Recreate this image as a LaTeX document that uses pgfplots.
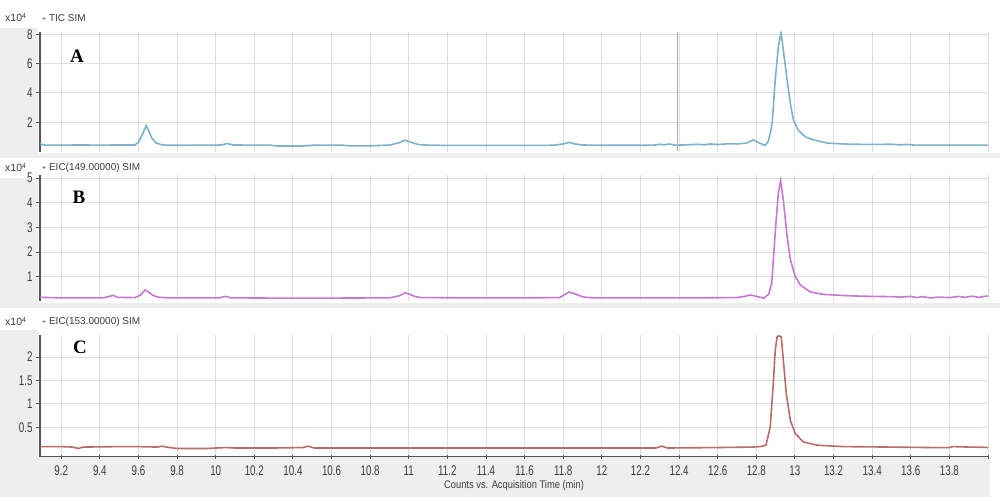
\documentclass[border=0pt]{standalone}
\usepackage{pgfplots}
\pgfplotsset{compat=1.18}
\usepackage{fontspec}
\setmainfont{Liberation Sans}
\newfontfamily\tickfont[FakeStretch=0.7]{Liberation Sans}
\newfontfamily\axlabfont[FakeStretch=0.85]{Liberation Sans}
\newfontfamily\letterfont{Liberation Serif}
\definecolor{bggray}{RGB}{238,238,238}
\definecolor{gridgray}{RGB}{222,222,222}
\definecolor{axgray}{RGB}{85,85,85}
\definecolor{txtgray}{RGB}{60,60,60}
\definecolor{cA}{RGB}{125,178,205}
\definecolor{cB}{RGB}{200,120,210}
\definecolor{cC}{RGB}{188,108,104}
\pgfplotsset{
  chrom/.style={
    scale only axis, width=948pt, xmin=9.09, xmax=14.0,
    enlargelimits=false,
    xtick={9.2,9.4,9.6,9.8,10.0,10.2,10.4,10.6,10.8,11.0,11.2,11.4,11.6,11.8,12.0,12.2,12.4,12.6,12.8,13.0,13.2,13.4,13.6,13.8,14.0},
    grid=major, major grid style={draw=gridgray, line width=0.9pt},
    axis y line*=left, axis x line*=bottom,
    y axis line style={-, draw=axgray, line width=1.2pt},
    ytick style={draw=axgray, line width=1pt},
    ytick align=outside, major tick length=4pt,
    tick label style={font=\tickfont\fontsize{14}{14}\selectfont, text=txtgray},
    axis background/.style={fill=white},
  },
  noxaxis/.style={x axis line style={draw=none}, xtick style={draw=none}, xticklabels={}},
}
\begin{document}
\begin{tikzpicture}[x=1pt,y=1pt]
\useasboundingbox (0,0) rectangle (1000,502);
\fill[white] (0,0) rectangle (1000,502);
% gray frame pieces
\fill[bggray] (0,502-153) rectangle (38,502-28);
\fill[bggray] (0,502-158) rectangle (1000,502-153);
\fill[bggray] (0,502-303) rectangle (38,502-178);
\fill[bggray] (0,502-308) rectangle (1000,502-303);
\fill[bggray] (0,502-497) rectangle (38,502-330);
\fill[bggray] (0,502-497) rectangle (990,502-457);

% Panel A
\begin{axis}[chrom, noxaxis, at={(40pt,350.4pt)}, anchor=south west,
  height=119.9pt, ymin=0, ymax=8.17,
  ytick={2,4,6,8}, yticklabels={2,4,6,8}]
\addplot[gray!65, line width=1pt] coordinates {(12.39,0.05) (12.39,8.17)};
\addplot[cA, line width=1.6pt] coordinates {
(9.09,0.58)(9.10,0.47)(9.12,0.44)(9.2,0.44)(9.3,0.45)(9.4,0.44)(9.5,0.45)(9.58,0.45)(9.60,0.62)(9.62,1.15)(9.64,1.78)(9.655,1.35)(9.67,0.9)(9.69,0.6)(9.72,0.46)(9.75,0.43)(9.8,0.43)(9.9,0.44)(10.0,0.44)(10.03,0.45)(10.06,0.55)(10.09,0.45)(10.2,0.44)(10.28,0.44)(10.32,0.38)(10.45,0.38)(10.5,0.43)(10.6,0.44)(10.66,0.43)(10.7,0.39)(10.8,0.39)(10.85,0.42)(10.9,0.44)(10.95,0.6)(10.98,0.78)(11.01,0.64)(11.05,0.48)(11.1,0.44)(11.2,0.42)(11.4,0.42)(11.6,0.42)(11.75,0.43)(11.8,0.52)(11.83,0.63)(11.86,0.52)(11.9,0.45)(12.0,0.43)(12.2,0.43)(12.27,0.44)(12.3,0.5)(12.32,0.46)(12.35,0.52)(12.38,0.44)(12.42,0.45)(12.5,0.5)(12.53,0.46)(12.56,0.52)(12.6,0.48)(12.65,0.53)(12.7,0.52)(12.75,0.58)(12.785,0.8)(12.81,0.62)(12.845,0.42)(12.862,0.7)(12.875,1.4)(12.883,2.1)(12.898,4.9)(12.914,7.15)(12.928,8.08)(12.94,6.9)(12.959,4.9)(12.976,3.3)(12.992,2.15)(13.017,1.46)(13.054,1.0)(13.095,0.8)(13.168,0.58)(13.235,0.53)(13.3,0.5)(13.4,0.49)(13.5,0.5)(13.55,0.46)(13.58,0.49)(13.62,0.44)(13.7,0.44)(13.8,0.44)(13.9,0.44)(14.0,0.44)};
\end{axis}

% Panel B
\begin{axis}[chrom, noxaxis, at={(40pt,200.7pt)}, anchor=south west,
  height=126.3pt, ymin=0, ymax=5.13,
  ytick={1,2,3,4,5}, yticklabels={1,2,3,4,5}]
\addplot[cB, line width=1.6pt] coordinates {
(9.09,0.16)(9.2,0.14)(9.3,0.14)(9.42,0.14)(9.45,0.2)(9.47,0.24)(9.49,0.16)(9.58,0.15)(9.61,0.25)(9.635,0.46)(9.655,0.36)(9.675,0.24)(9.7,0.17)(9.75,0.14)(9.9,0.14)(10.02,0.14)(10.05,0.2)(10.08,0.14)(10.3,0.13)(10.6,0.13)(10.9,0.14)(10.95,0.22)(10.98,0.34)(11.0,0.3)(11.03,0.2)(11.06,0.15)(11.3,0.14)(11.6,0.14)(11.78,0.15)(11.81,0.28)(11.83,0.38)(11.86,0.3)(11.9,0.18)(11.95,0.14)(12.2,0.14)(12.5,0.14)(12.7,0.15)(12.74,0.2)(12.77,0.26)(12.8,0.2)(12.84,0.13)(12.865,0.3)(12.88,0.75)(12.898,2.8)(12.914,4.4)(12.926,4.9)(12.94,4.1)(12.96,2.6)(12.976,1.7)(13.002,1.0)(13.028,0.66)(13.08,0.38)(13.147,0.28)(13.287,0.22)(13.4,0.2)(13.5,0.19)(13.546,0.17)(13.6,0.2)(13.63,0.15)(13.66,0.19)(13.7,0.14)(13.75,0.17)(13.8,0.15)(13.85,0.2)(13.88,0.16)(13.92,0.21)(13.95,0.16)(14.0,0.22)};
\end{axis}

% Panel C
\begin{axis}[chrom, at={(40pt,45.3pt)}, anchor=south west,
  height=121.7pt, ymin=-0.125, ymax=2.47,
  ytick={0.5,1,1.5,2}, yticklabels={0.5,1,1.5,2},
  x axis line style={-, draw=axgray, line width=1.5pt},
  xtick style={draw=axgray, line width=1pt}, xtick align=center,
  xticklabel style={yshift=-3pt, text height=10pt, text depth=1pt},
  xticklabels={9.2,9.4,9.6,9.8,10,10.2,10.4,10.6,10.8,11,11.2,11.4,11.6,11.8,12,12.2,12.4,12.6,12.8,13,13.2,13.4,13.6,13.8,{}},
  xlabel={Counts vs. Acquisition Time (min)},
  xlabel style={font=\axlabfont\fontsize{11}{11}\selectfont, text=txtgray, yshift=3pt}]
\addplot[cC, line width=1.6pt] coordinates {
(9.09,0.09)(9.2,0.09)(9.26,0.08)(9.29,0.05)(9.31,0.08)(9.5,0.09)(9.6,0.09)(9.7,0.08)(9.72,0.1)(9.76,0.07)(9.8,0.05)(9.95,0.05)(10.05,0.07)(10.1,0.06)(10.3,0.06)(10.45,0.07)(10.48,0.1)(10.51,0.06)(10.8,0.06)(11.2,0.06)(11.6,0.06)(12.0,0.06)(12.28,0.06)(12.31,0.1)(12.34,0.06)(12.6,0.07)(12.78,0.08)(12.82,0.09)(12.85,0.12)(12.872,0.51)(12.888,1.44)(12.898,2.14)(12.908,2.44)(12.918,2.45)(12.929,2.43)(12.94,1.93)(12.955,1.23)(12.976,0.65)(13.002,0.37)(13.043,0.19)(13.116,0.12)(13.25,0.09)(13.5,0.08)(13.7,0.07)(13.8,0.07)(13.82,0.09)(13.9,0.08)(13.95,0.08)(14.0,0.07)};
\end{axis}

% titles
\begin{scope}[every node/.style={text=txtgray, inner sep=0pt}]
\node[anchor=west, font=\fontsize{10.5}{10.5}\selectfont] at (5,502-18) {x10\raisebox{0.5ex}{\fontsize{7}{7}\selectfont 4}};
\node[anchor=west, font=\fontsize{10}{10}\selectfont] at (42,502-18) {{\fontsize{7}{7}\selectfont +} TIC SIM};
\node[anchor=west, font=\fontsize{10.5}{10.5}\selectfont] at (5,502-168) {x10\raisebox{0.5ex}{\fontsize{7}{7}\selectfont 4}};
\node[anchor=west, font=\fontsize{10}{10}\selectfont] at (42,502-168) {{\fontsize{7}{7}\selectfont +} EIC(149.00000) SIM};
\node[anchor=west, font=\fontsize{10.5}{10.5}\selectfont] at (5,502-322) {x10\raisebox{0.5ex}{\fontsize{7}{7}\selectfont 4}};
\node[anchor=west, font=\fontsize{10}{10}\selectfont] at (42,502-322) {{\fontsize{7}{7}\selectfont +} EIC(153.00000) SIM};
\end{scope}
\begin{scope}[every node/.style={text=black, font=\letterfont\bfseries\fontsize{19}{19}\selectfont}]
\node at (77,502-56) {A};
\node at (79,502-197) {B};
\node at (80,502-347) {C};
\end{scope}
\end{tikzpicture}
\end{document}
